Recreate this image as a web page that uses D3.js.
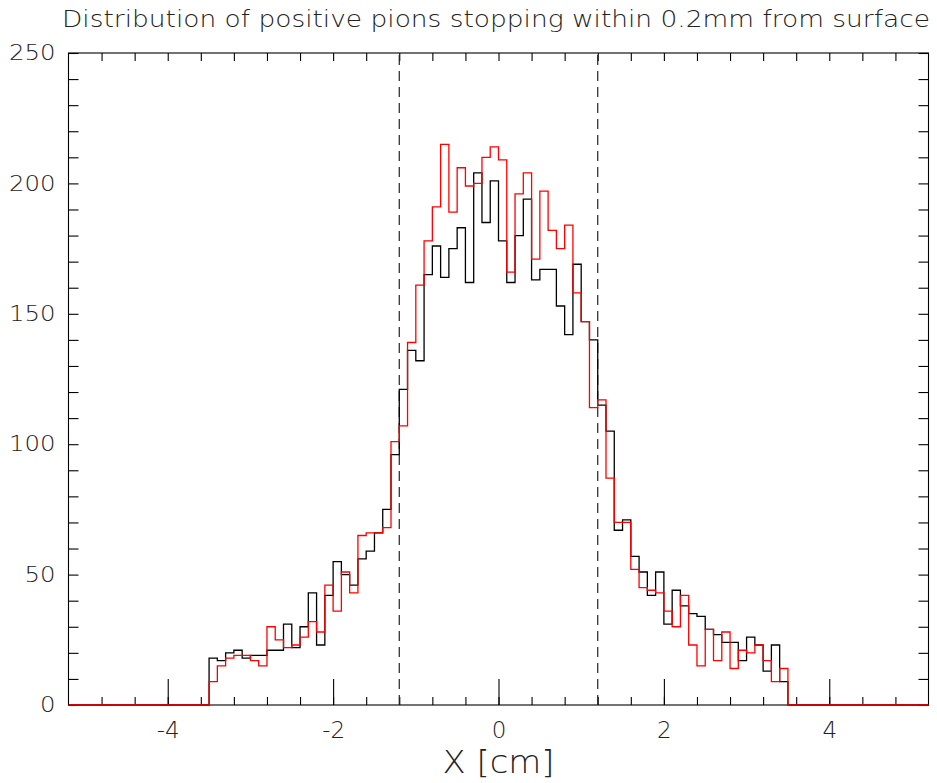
<!DOCTYPE html>
<html>
<head>
<meta charset="utf-8">
<script src="https://cdn.jsdelivr.net/npm/d3@7"></script>
<style>
  html, body { margin: 0; padding: 0; background: #fff; }
  svg { display: block; }
  text { font-family: "DejaVu Sans", sans-serif; font-weight: 200; fill: #222; }
</style>
</head>
<body>
<svg id="chart" width="937" height="783"></svg>
<script>
// ---- data ----
const title = "Distribution of positive pions stopping within 0.2mm from surface";
const xLabel = "X [cm]";
const xDomain = [-5.2, 5.2];
const yDomain = [0, 250];
const binStart = -3.5;
const binWidth = 0.1;
// black histogram (counts per 0.1 cm bin from -3.5 to 3.5)
const blackCounts = [18,17,20,21,18,19,19,21,21,31,22,30,43,23,42,55,50,46,56,59,
  66,75,96,121,136,132,165,176,164,175,183,162,204,185,201,178,162,180,194,163,
  167,167,153,142,169,147,140,115,105,67,71,57,51,42,51,31,44,38,35,34,
  29,27,24,24,17,26,23,13,23,9];
// red histogram
const redCounts = [9,15,18,19,19,17,15,30,25,22,23,26,32,28,46,36,51,43,65,66,
  66,68,101,107,139,161,178,191,215,189,206,199,200,210,214,209,166,196,204,171,
  197,182,175,184,158,147,114,117,87,70,70,52,45,44,43,36,30,42,23,15,
  29,17,28,14,21,20,23,17,9,14];
const dashedLines = [-1.2, 1.2];
const xMajorTicks = [-4, -2, 0, 2, 4];
const xMinorTicks = d3.range(-12, 13).map(k => k * 0.4);
const yMajorTicks = [0, 50, 100, 150, 200, 250];
const yMinorTicks = d3.range(0, 251, 10);

// ---- layout ----
const svg = d3.select("#chart");
const x = d3.scaleLinear().domain(xDomain).range([68.5, 928.5]);
const y = d3.scaleLinear().domain(yDomain).range([705, 53]);

// frame
svg.append("rect")
  .attr("x", x(xDomain[0])).attr("y", y(yDomain[1]))
  .attr("width", x(xDomain[1]) - x(xDomain[0]))
  .attr("height", y(yDomain[0]) - y(yDomain[1]))
  .attr("fill", "none").attr("stroke", "#000").attr("stroke-width", 1.1);

function styleAxis(g) {
  g.select(".domain").remove();
  g.selectAll(".tick line").attr("stroke", "#000").attr("stroke-width", 1.1);
}

// bottom minor ticks
svg.append("g").attr("transform", `translate(0,${y(0)})`)
  .call(d3.axisBottom(x).tickValues(xMinorTicks).tickSize(-8).tickFormat(""))
  .call(styleAxis);
// bottom major ticks with labels
svg.append("g").attr("transform", `translate(0,${y(0)})`)
  .call(d3.axisBottom(x).tickValues(xMajorTicks).tickSize(-26).tickPadding(17)
    .tickFormat(d => d3.format("d")(d).replace("−", "-")))
  .call(styleAxis)
  .call(g => g.selectAll("text").attr("font-size", 23).attr("font-family", "DejaVu Sans").attr("fill", "#222"));
// top ticks
svg.append("g").attr("transform", `translate(0,${y(250)})`)
  .call(d3.axisTop(x).tickValues(xMinorTicks).tickSize(-8).tickFormat(""))
  .call(styleAxis);
// left ticks
svg.append("g").attr("transform", `translate(${x(xDomain[0])},0)`)
  .call(d3.axisLeft(y).tickValues(yMinorTicks).tickSize(-10).tickFormat(""))
  .call(styleAxis);
svg.append("g").attr("transform", `translate(${x(xDomain[0])},0)`)
  .call(d3.axisLeft(y).tickValues(yMajorTicks).tickSize(0).tickPadding(13))
  .call(styleAxis)
  .call(g => g.selectAll("text").attr("font-size", 21).attr("font-family", "DejaVu Sans").attr("fill", "#222")
      .attr("textLength", d => String(d).length * 15.5).attr("lengthAdjust", "spacingAndGlyphs"));
// right ticks
svg.append("g").attr("transform", `translate(${x(xDomain[1])},0)`)
  .call(d3.axisRight(y).tickValues(yMinorTicks).tickSize(-10).tickFormat(""))
  .call(styleAxis);

// dashed lines
svg.append("g").selectAll("line").data(dashedLines).join("line")
  .attr("x1", d => x(d)).attr("x2", d => x(d))
  .attr("y1", y(0)).attr("y2", y(250))
  .attr("stroke", "#222").attr("stroke-width", 1.2).attr("stroke-dasharray", "10,6");

// histograms
function histPoints(counts) {
  const pts = [[xDomain[0], 0]];
  counts.forEach((c, i) => pts.push([binStart + i * binWidth, c]));
  pts.push([binStart + counts.length * binWidth, 0]);
  pts.push([xDomain[1], 0]);
  return pts;
}
const line = d3.line().x(d => x(d[0])).y(d => y(d[1])).curve(d3.curveStepAfter);
svg.append("path").attr("d", line(histPoints(blackCounts)))
  .attr("fill", "none").attr("stroke", "#000").attr("stroke-width", 1.3);
svg.append("path").attr("d", line(histPoints(redCounts)))
  .attr("fill", "none").attr("stroke", "#ff0000").attr("stroke-width", 1.3);

// title
svg.append("text").attr("x", 62).attr("y", 27)
  .attr("font-size", 23)
  .attr("textLength", 868).attr("lengthAdjust", "spacingAndGlyphs")
  .text(title);
// x label
svg.append("text").attr("x", x(0)).attr("y", 773)
  .attr("text-anchor", "middle").attr("font-size", 32)
  .attr("textLength", 112).attr("lengthAdjust", "spacingAndGlyphs")
  .text(xLabel);
</script>
</body>
</html>
